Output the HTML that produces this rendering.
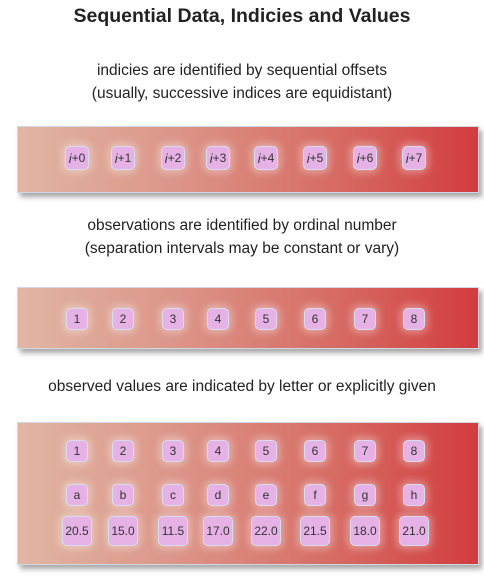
<!DOCTYPE html>
<html><head><meta charset="utf-8"><style>
body{margin:0;width:484px;height:585px;background:#fff;font-family:"Liberation Sans",sans-serif;position:relative;overflow:hidden}
.t{position:absolute;left:0;width:484px;text-align:center;color:#222;white-space:nowrap}
.panel{position:absolute;left:17px;width:460px;background:linear-gradient(90deg,#e0b6a2 0%,#dc9488 35%,#d66a62 70%,#d23c3e 100%);border:1px solid #d0d8e8;box-shadow:3px 4px 5px rgba(0,0,0,0.35)}
.b{position:absolute;background:#e6b2e6;border:1.5px solid #d8dcf0;border-radius:5px;box-sizing:border-box;display:flex;align-items:center;justify-content:center;font-size:12px;color:#333;box-shadow:0 0 8px 3px rgba(255,255,255,0.35)}
</style></head><body>
<div class="t" style="top:5px;font-size:19.5px;font-weight:bold">Sequential Data, Indicies and Values</div>
<div class="t" style="top:59px;font-size:15.5px;line-height:23px">indicies are identified by sequential offsets<br>(usually, successive indices are equidistant)</div>
<div class="panel" style="top:126px;height:65px" id="p1"></div>
<div class="t" style="top:214px;font-size:15.5px;line-height:23px">observations are identified by ordinal number<br>(separation intervals may be constant or vary)</div>
<div class="panel" style="top:287px;height:60px" id="p2"></div>
<div class="t" style="top:378px;font-size:15.5px">observed values are indicated by letter or explicitly given</div>
<div class="panel" style="top:422px;height:141px" id="p3"></div>
<script>
const centers=[76,122,172,217,265,314,364,413];
const indexLabels=["+0","+1","+2","+3","+4","+5","+6","+7"];
const ordinals=["1","2","3","4","5","6","7","8"];
const letters=["a","b","c","d","e","f","g","h"];
const values=[20.5,15.0,11.5,17.0,22.0,21.5,18.0,21.0];
function box(p,cx,cy,w,h,html,name){
  const d=document.createElement('div');d.className='b';
  
  
  d.style.left=(cx-17-w/2)+'px';d.style.top=(cy-h/2)+'px';d.style.width=w+'px';d.style.height=h+'px';
  d.innerHTML=html;p.appendChild(d);
}
const p1=document.getElementById('p1'),p2=document.getElementById('p2'),p3=document.getElementById('p3');
centers.forEach((c,i)=>{
  box(p1,c,31,24,24,'<i style="font-size:13px">i</i>'+indexLabels[i],'index-box');
  box(p2,c,31,22,22,ordinals[i],'ordinal-box');
  box(p3,c,28,22,22,ordinals[i],'ordinal-box');
  box(p3,c,72,22,22,letters[i],'letter-box');
  box(p3,c,108,30,30,values[i].toFixed(1),'value-box');
});
</script>
</body></html>
